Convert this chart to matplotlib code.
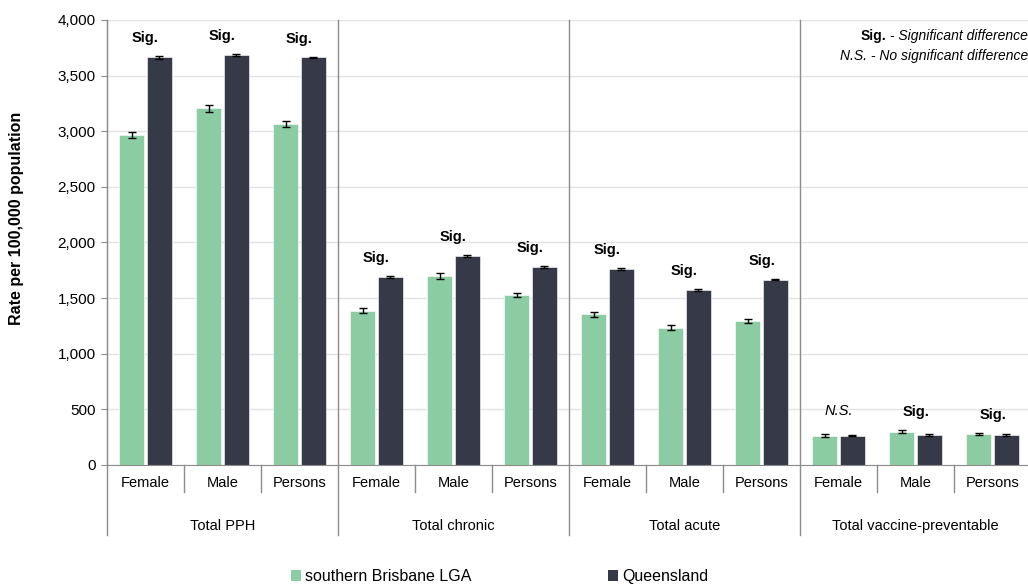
import matplotlib
matplotlib.use("Agg")
import matplotlib.pyplot as plt
import matplotlib.transforms as mtransforms
from matplotlib.patches import Patch
import numpy as np

plt.rcParams['font.family'] = ['Liberation Sans', 'DejaVu Sans']

# data
groups = ["Total PPH", "Total chronic", "Total acute", "Total vaccine-preventable"]
sexes = ["Female", "Male", "Persons"]
lga = [2965, 3205, 3065, 1385, 1700, 1530, 1355, 1235, 1295, 265, 300, 280]
lga_err = [30, 35, 25, 22, 28, 20, 22, 20, 18, 12, 12, 10]
qld = [3665, 3685, 3665, 1690, 1880, 1780, 1760, 1575, 1665, 265, 270, 270]
qld_err = [12, 12, 6, 8, 8, 8, 8, 8, 6, 5, 5, 5]
sig = ["Sig."] * 9 + ["N.S.", "Sig.", "Sig."]

green = "#8ccca2"
dark = "#363a48"
grey = "#8c8c8c"

fig = plt.figure(figsize=(10.28, 5.86), dpi=100)
ax = fig.add_axes([0.104, 0.2065, 0.899, 0.7594])

x = np.arange(len(lga))
w = 0.325
off = 0.18
ax.bar(x - off, lga, w, color=green, edgecolor="white", linewidth=0.4, zorder=2)
ax.bar(x + off, qld, w, color=dark, edgecolor="white", linewidth=0.4, zorder=2)
ax.errorbar(x - off, lga, yerr=lga_err, fmt="none", ecolor="black",
            elinewidth=1, capsize=3, capthick=1, zorder=3)
ax.errorbar(x + off, qld, yerr=qld_err, fmt="none", ecolor="black",
            elinewidth=1, capsize=3, capthick=1, zorder=3)

# significance labels above each pair
for i, s in enumerate(sig):
    top = max(lga[i] + lga_err[i], qld[i] + qld_err[i])
    if s == "N.S.":
        ax.annotate(s, (x[i], top), xytext=(0, 17), textcoords="offset points",
                    ha="center", va="center", fontsize=10.5, style="italic")
    else:
        ax.annotate(s, (x[i], top), xytext=(0, 13), textcoords="offset points",
                    ha="center", va="center", fontsize=10.5, fontweight="bold")

ax.set_xlim(-0.5, len(lga) - 0.5)
ax.set_ylim(0, 4000)
ax.set_yticks(np.arange(0, 4001, 500))
ax.yaxis.set_major_formatter(matplotlib.ticker.FuncFormatter(lambda v, p: f"{int(v):,}"))
ax.tick_params(axis="y", labelsize=11, length=4, color=grey, pad=4)
ax.set_xticks([])
ax.grid(axis="y", color="#e3e3e3", linewidth=1, zorder=0)
for sp in ["top", "right"]:
    ax.spines[sp].set_visible(False)
ax.spines["left"].set_color(grey)
ax.spines["bottom"].set_color(grey)
ax.set_ylabel("Rate per 100,000 population", fontsize=11.5, fontweight="bold")
ax.yaxis.set_label_coords(-0.09, 0.555)

# category axis with group separators
trans = mtransforms.blended_transform_factory(ax.transData, ax.transAxes)
for i in range(len(lga) + 1):
    xb = i - 0.5
    if i % 3 == 0:
        if i == len(lga):
            continue
        ax.plot([xb, xb], [-0.157, 1.0], transform=trans, color=grey, lw=1, clip_on=False)
    else:
        ax.plot([xb, xb], [-0.061, 0], transform=trans, color=grey, lw=1, clip_on=False)
for i in range(len(lga)):
    ax.text(x[i], -0.04, sexes[i % 3], transform=trans, ha="center", va="center", fontsize=10.5)
for g, name in enumerate(groups):
    ax.text(3 * g + 1, -0.137, name, transform=trans, ha="center", va="center", fontsize=10.5)

# key for the labels
t1 = ax.text(0.997, 0.965, " - Significant difference", transform=ax.transAxes,
             ha="right", va="center", fontsize=10, style="italic")
ax.annotate("Sig.", xy=(0, 0.5), xycoords=t1, ha="right", va="center",
            fontsize=10, fontweight="bold")
ax.text(0.997, 0.918, "N.S. - No significant difference", transform=ax.transAxes,
        ha="right", va="center", fontsize=10, style="italic")

handles = [Patch(facecolor=green, label="southern Brisbane LGA"),
           Patch(facecolor=dark, label="Queensland")]
fig.legend(handles=handles, loc="center", bbox_to_anchor=(0.486, 0.016), ncol=2,
           frameon=False, fontsize=11.5, handlelength=0.6, handleheight=0.6,
           handletextpad=0.25, columnspacing=8.6)

fig.savefig("out.png", dpi=100)
